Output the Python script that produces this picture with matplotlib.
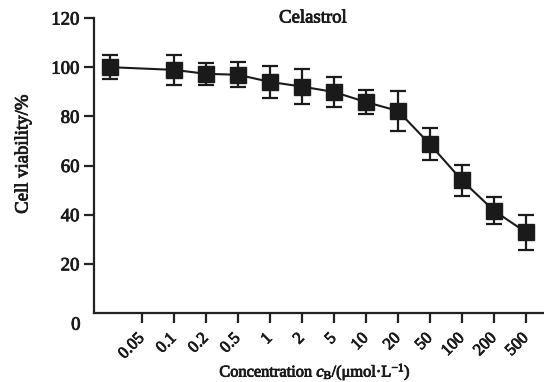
import matplotlib
matplotlib.use("Agg")
import matplotlib.pyplot as plt
import matplotlib.transforms as mtransforms
import matplotlib.patheffects as pe

plt.rcParams['font.family'] = ['Liberation Serif', 'DejaVu Serif']
plt.rcParams['mathtext.fontset'] = 'custom'
plt.rcParams['mathtext.rm'] = 'Liberation Serif'
plt.rcParams['mathtext.it'] = 'Liberation Serif:italic'

# tick categories on the x axis
tick_labels = ["0.05", "0.1", "0.2", "0.5", "1", "2", "5", "10", "20", "50", "100", "200", "500"]
# measured points (first is the untreated control, drawn left of the first tick)
point_labels = ["control", "0.1", "0.2", "0.5", "1", "2", "5", "10", "20", "50", "100", "200", "500"]
viability = [100.0, 98.9, 97.3, 96.9, 94.0, 92.1, 89.9, 85.8, 82.2, 68.6, 53.9, 41.6, 32.8]
err = [5.0, 6.0, 4.5, 5.0, 6.5, 7.0, 6.0, 5.0, 8.0, 6.5, 6.2, 5.5, 7.2]
yticks = [20, 40, 60, 80, 100, 120]

xpos = [tick_labels.index(l) if l in tick_labels else -1 for l in point_labels]

INK = '#1a1a1a'
thick = [pe.withStroke(linewidth=0.6, foreground=INK)]

fig = plt.figure(figsize=(5.44, 3.82), dpi=100)
ax = fig.add_axes([94/544, 1-313/382, 1-94/544, 295/382])

ax.errorbar(xpos, viability, yerr=err, color=INK, marker='s', markersize=11,
            linewidth=1.5, elinewidth=1.6, capsize=5.5, capthick=1.6, zorder=3)

ax.set_xlim(-1.5, 12.56)
ax.set_ylim(0, 120)
ax.set_xticks(range(len(tick_labels)))
ax.set_xticklabels(tick_labels, rotation=45, ha='right', va='center', rotation_mode='anchor', fontsize=12)
ax.set_yticks(yticks)
ax.set_yticklabels([str(v) for v in yticks], fontsize=13.5)

for s in ['top', 'right']:
    ax.spines[s].set_visible(False)
for s in ['left', 'bottom']:
    ax.spines[s].set_linewidth(1.6)
    ax.spines[s].set_color('#222222')
ax.tick_params(axis='both', width=1.6, length=7.5, color='#222222', labelcolor=INK)
ax.tick_params(axis='y', pad=3)
ax.tick_params(axis='x', pad=9)
for t in ax.get_xticklabels() + ax.get_yticklabels():
    t.set_path_effects(thick)

# the zero label sits slightly below the corner
trans = mtransforms.blended_transform_factory(ax.transAxes, ax.transData)
ax.text(-0.03, -1.5, "0", transform=trans, ha='right', va='top', fontsize=13.5, color=INK,
        path_effects=thick)

ax.text(5.34, 120, "Celastrol", ha='center', va='center', fontsize=13.5, color=INK,
        clip_on=False, path_effects=thick)

fig.text(23/544, 1-154/382, "Cell viability/%", rotation=90, ha='center', va='center',
         fontsize=13.5, color=INK, path_effects=thick)
fig.text(315/544, 1-372/382, r"Concentration $\mathit{c}_{\mathrm{B}}$/(μmol·L$^{-1}$)",
         ha='center', va='center', fontsize=11.8, color=INK, path_effects=thick)

fig.savefig("out.png", dpi=100)
